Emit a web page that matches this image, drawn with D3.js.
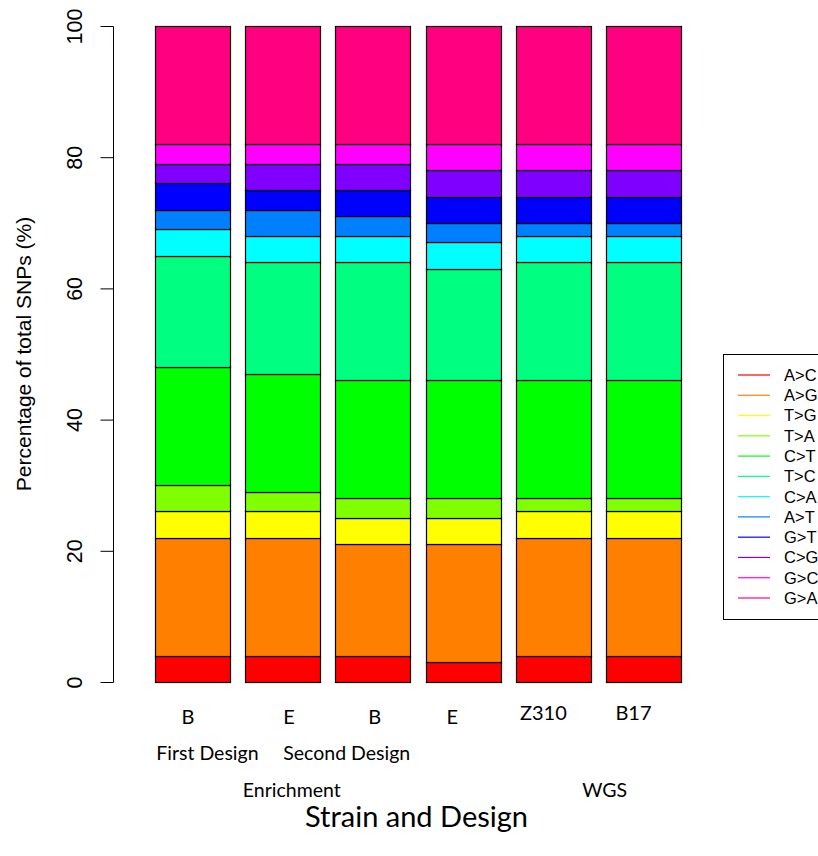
<!DOCTYPE html>
<html>
<head>
<meta charset="utf-8">
<script src="https://cdn.jsdelivr.net/npm/d3@7"></script>
<style>
  html, body { margin: 0; padding: 0; background: #fff; }
  svg { display: block; }
</style>
</head>
<body>
<svg id="chart" width="818" height="856"></svg>
<script>
// ---- data ----
const categories = ["B", "E", "B", "E", "Z310", "B17"];
const mutations = ["A>C", "A>G", "T>G", "T>A", "C>T", "T>C", "C>A", "A>T", "G>T", "C>G", "G>C", "G>A"];
const palette = ["#FF0000", "#FF8000", "#FFFF00", "#80FF00", "#00FF00", "#00FF80",
                 "#00FFFF", "#0080FF", "#0000FF", "#8000FF", "#FF00FF", "#FF0080"];

// percentage of each substitution per sample (same order as categories)
const pctAC = [4, 4, 4, 3, 4, 4];
const pctAG = [18, 18, 17, 18, 18, 18];
const pctTG = [4, 4, 4, 4, 4, 4];
const pctTA = [4, 3, 3, 3, 2, 2];
const pctCT = [18, 18, 18, 18, 18, 18];
const pctTC = [17, 17, 18, 17, 18, 18];
const pctCA = [4, 4, 4, 4, 4, 4];
const pctAT = [3, 4, 3, 3, 2, 2];
const pctGT = [4, 3, 4, 4, 4, 4];
const pctCG = [3, 4, 4, 4, 4, 4];
const pctGC = [3, 3, 3, 4, 4, 4];
const pctGA = [18, 18, 18, 18, 18, 18];

const yTicks = [0, 20, 40, 60, 80, 100];
const designLabels = ["First Design", "Second Design"];
const groupLabels = ["Enrichment", "WGS"];
const yTitle = "Percentage of total SNPs (%)";
const xTitle = "Strain and Design";

// ---- layout ----
const seriesVals = [pctAC, pctAG, pctTG, pctTA, pctCT, pctTC, pctCA, pctAT, pctGT, pctCG, pctGC, pctGA];
const rows = categories.map((c, i) => {
  const r = { idx: i };
  mutations.forEach((m, k) => { r[m] = seriesVals[k][i]; });
  return r;
});

const svg = d3.select("#chart");
const axisFont = "'Liberation Sans', Arial, sans-serif";
const labelFont = "Lato, 'Open Sans', sans-serif";

const x = d3.scaleBand()
  .domain(d3.range(categories.length))
  .range([155, 681])
  .paddingInner(1 / 6)
  .paddingOuter(0);
const y = d3.scaleLinear().domain([0, 100]).range([682, 26]);

// offsets (in bar steps) for the hand-placed category annotations
const catOffset = [-0.05, 1.07, 2.02, 2.88, 3.89, 4.89];
const catBaseline = [724, 724, 724, 724, 720, 720];
const designOffset = [0.165, 1.71];
const groupOffset = [1.10, 4.57];
const ux = u => x(0) + x.bandwidth() / 2 + u * x.step();

// ---- stacked bars ----
const stacked = d3.stack().keys(mutations)(rows);
const color = d3.scaleOrdinal().domain(mutations).range(palette);

svg.append("g")
  .selectAll("g")
  .data(stacked)
  .join("g")
  .attr("fill", d => color(d.key))
  .selectAll("rect")
  .data(d => d)
  .join("rect")
  .attr("x", d => Math.round(x(d.data.idx)) + 0.5)
  .attr("width", Math.round(x.bandwidth()))
  .attr("y", d => Math.round(y(d[1])) + 0.5)
  .attr("height", d => Math.round(y(d[0])) - Math.round(y(d[1])))
  .attr("stroke", "#000")
  .attr("stroke-width", 1.2);

// ---- y axis ----
const yAxis = d3.axisLeft(y).tickValues(yTicks).tickSize(13).tickPadding(0).tickFormat(d3.format("d"));
const gy = svg.append("g").attr("transform", "translate(113.5,0)").call(yAxis);
gy.select(".domain").attr("d", `M0,${y(0) + 0.5}V${y(100) + 0.5}`).attr("stroke", "#000");
gy.selectAll(".tick line").attr("stroke", "#000");
gy.selectAll(".tick text")
  .attr("font-family", axisFont)
  .attr("font-size", 21.5)
  .attr("fill", "#000")
  .attr("text-anchor", "middle")
  .attr("dy", 0)
  .attr("x", 0)
  .attr("y", 0)
  .attr("transform", "translate(-32,0) rotate(-90)");

svg.append("text")
  .attr("transform", `translate(31,${(y(0) + y(100)) / 2}) rotate(-90)`)
  .attr("text-anchor", "middle")
  .attr("font-family", axisFont)
  .attr("font-size", 21)
  .attr("fill", "#000")
  .text(yTitle);

// ---- category annotations ----
svg.append("g").selectAll("text")
  .data(categories)
  .join("text")
  .attr("x", (d, i) => ux(catOffset[i]))
  .attr("y", (d, i) => catBaseline[i])
  .attr("text-anchor", "middle")
  .attr("font-family", labelFont)
  .attr("font-size", 20)
  .attr("fill", "#000")
  .text(d => d);

svg.append("g").selectAll("text")
  .data(designLabels)
  .join("text")
  .attr("x", (d, i) => ux(designOffset[i]))
  .attr("y", 760)
  .attr("text-anchor", "middle")
  .attr("font-family", labelFont)
  .attr("font-size", 19.5)
  .attr("fill", "#000")
  .text(d => d);

svg.append("g").selectAll("text")
  .data(groupLabels)
  .join("text")
  .attr("x", (d, i) => ux(groupOffset[i]))
  .attr("y", 797)
  .attr("text-anchor", "middle")
  .attr("font-family", labelFont)
  .attr("font-size", 19.5)
  .attr("fill", "#000")
  .text(d => d);

svg.append("text")
  .attr("x", 416.5)
  .attr("y", 827)
  .attr("text-anchor", "middle")
  .attr("font-family", labelFont)
  .attr("font-size", 29)
  .attr("fill", "#000")
  .text(xTitle);

// ---- legend ----
const legend = svg.append("g");
legend.append("rect")
  .attr("x", 723.5).attr("y", 354.5)
  .attr("width", 120).attr("height", 265)
  .attr("fill", "#fff").attr("stroke", "#000");

const ly = d3.scalePoint().domain(mutations).range([375, 598]);
const items = legend.selectAll("g.item")
  .data(mutations)
  .join("g")
  .attr("class", "item")
  .attr("transform", d => `translate(0,${ly(d)})`);
items.append("line")
  .attr("x1", 738).attr("x2", 770)
  .attr("y1", 0).attr("y2", 0)
  .attr("stroke", d => color(d))
  .attr("stroke-width", 1.2);
items.append("text")
  .attr("x", 784)
  .attr("y", 0)
  .attr("dy", "0.36em")
  .attr("font-family", axisFont)
  .attr("font-size", 16.5)
  .attr("fill", "#000")
  .text(d => d);
</script>
</body>
</html>
